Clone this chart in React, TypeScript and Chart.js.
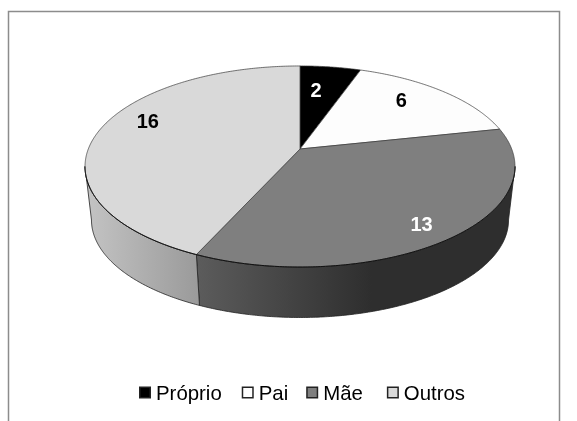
import React, { useEffect, useRef } from "react";
import { Chart, registerables } from "chart.js";

Chart.register(...registerables);

const categories = ["Próprio", "Pai", "Mãe", "Outros"];
const values = [2, 6, 13, 16];
const faceColors = ["#000000", "#fdfdfd", "#7f7f7f", "#d9d9d9"];
const wallStops = [
  ["#000000", "#000000"],
  ["#fdfdfd", "#fdfdfd"],
  ["#2e2e2e", "#5c5c5c"],
  ["#9a9a9a", "#c4c4c4"],
];
const labelColors = ["#ffffff", "#000000", "#ffffff", "#000000"];
const labelRadius = [0.67, 0.76, 0.85, 0.81];
const labelTurnDeg = [-2.5, -5, 2.4, 9];
const legendGaps = [20, 18, 24];

const CX = 300;
const TOP_APEX_Y = 149;
const BASE_APEX_Y = 203;
const RX = 211.7;
const RY = 97.5;
const PERSPECTIVE = 0.174;
const BASE_SCALE = 0.97;
const TANGENT = Math.asin(PERSPECTIVE);
const FONT = "'Liberation Sans', Arial, sans-serif";

const project = (a: number, r: number, apexY: number, scale: number) => {
  const x = r * Math.cos(a);
  const y = r * Math.sin(a);
  const w = 1 - PERSPECTIVE * y;
  return { x: CX + (scale * RX * x) / w, y: apexY + (scale * RY * y) / w };
};

const sweep = (from: number, to: number) => {
  const out: number[] = [];
  const n = Math.max(2, Math.ceil(Math.abs(to - from) / 0.01));
  for (let i = 0; i <= n; i++) out.push(from + ((to - from) * i) / n);
  return out;
};

const pie3d = {
  id: "pie3d",
  beforeDatasetsDraw(chart: any) {
    const ctx = chart.ctx as CanvasRenderingContext2D;
    const arcs = chart.getDatasetMeta(0).data as any[];

    // frame
    ctx.save();
    ctx.strokeStyle = "#8c8c8c";
    ctx.lineWidth = 1.5;
    ctx.beginPath();
    ctx.moveTo(8.5, 421);
    ctx.lineTo(8.5, 11.5);
    ctx.lineTo(559.5, 11.5);
    ctx.lineTo(559.5, 421);
    ctx.stroke();
    ctx.restore();

    // walls
    arcs.forEach((arc, i) => {
      const from = Math.max(arc.startAngle, TANGENT);
      const to = Math.min(arc.endAngle, Math.PI - TANGENT);
      if (to <= from) return;
      const angles = sweep(from, to);
      const top = angles.map((a) => project(a, 1, TOP_APEX_Y, 1));
      const base = angles.map((a) => project(a, 1, BASE_APEX_Y, BASE_SCALE)).reverse();
      const xs = [...top, ...base].map((p) => p.x);
      const g = ctx.createLinearGradient(Math.max(...xs), 0, Math.min(...xs), 0);
      g.addColorStop(0, wallStops[i][0]);
      g.addColorStop(i === 2 ? 0.45 : 0, wallStops[i][0]);
      g.addColorStop(1, wallStops[i][1]);
      ctx.beginPath();
      [...top, ...base].forEach((p, j) => (j ? ctx.lineTo(p.x, p.y) : ctx.moveTo(p.x, p.y)));
      ctx.closePath();
      ctx.fillStyle = g;
      ctx.fill();
      ctx.strokeStyle = "#222222";
      ctx.lineWidth = 0.8;
      ctx.stroke();
    });

    // top faces
    arcs.forEach((arc, i) => {
      const apex = project(0, 0, TOP_APEX_Y, 1);
      ctx.beginPath();
      ctx.moveTo(apex.x, apex.y);
      sweep(arc.startAngle, arc.endAngle).forEach((a) => {
        const p = project(a, 1, TOP_APEX_Y, 1);
        ctx.lineTo(p.x, p.y);
      });
      ctx.closePath();
      ctx.fillStyle = faceColors[i];
      ctx.fill();
      ctx.strokeStyle = "#3a3a3a";
      ctx.lineWidth = 0.7;
      ctx.stroke();
    });

    // front rim
    ctx.beginPath();
    sweep(TANGENT, Math.PI - TANGENT).forEach((a, j) => {
      const p = project(a, 1, TOP_APEX_Y, 1);
      j ? ctx.lineTo(p.x, p.y) : ctx.moveTo(p.x, p.y);
    });
    ctx.strokeStyle = "#111111";
    ctx.lineWidth = 1;
    ctx.stroke();

    // value labels
    ctx.font = `bold 20px ${FONT}`;
    ctx.textAlign = "center";
    ctx.textBaseline = "middle";
    arcs.forEach((arc, i) => {
      const mid = (arc.startAngle + arc.endAngle) / 2 + (labelTurnDeg[i] * Math.PI) / 180;
      const p = project(mid, labelRadius[i], TOP_APEX_Y, 1);
      ctx.fillStyle = labelColors[i];
      ctx.fillText(String(values[i]), p.x, p.y + 1);
    });

    // legend
    ctx.font = `20.4px ${FONT}`;
    ctx.textAlign = "left";
    ctx.textBaseline = "alphabetic";
    let x = 139;
    categories.forEach((c, i) => {
      ctx.fillStyle = faceColors[i];
      ctx.strokeStyle = "#222222";
      ctx.lineWidth = 1.5;
      ctx.fillRect(x + 0.75, 387.25, 10.5, 10.5);
      ctx.strokeRect(x + 0.75, 387.25, 10.5, 10.5);
      ctx.fillStyle = "#000000";
      ctx.fillText(c, x + 17, 399.5);
      x += 17 + ctx.measureText(c).width + (legendGaps[i] ?? 0);
    });
    return false;
  },
};

export default function App() {
  const ref = useRef<HTMLCanvasElement | null>(null);
  useEffect(() => {
    if (!ref.current) return;
    const chart = new Chart(ref.current, {
      type: "pie",
      data: {
        labels: categories,
        datasets: [{ data: values, backgroundColor: faceColors, borderWidth: 0 }],
      },
      options: {
        responsive: false,
        animation: false,
        plugins: {
          tooltip: { enabled: false },
          legend: { display: false },
        },
      },
      plugins: [pie3d],
    } as any);
    return () => chart.destroy();
  }, []);
  return (
    <div style={{ position: "absolute", left: 0, top: 0, width: 577, height: 421, overflow: "hidden", background: "#fff" }}>
      <canvas ref={ref} width={577} height={421} style={{ display: "block" }} />
    </div>
  );
}
